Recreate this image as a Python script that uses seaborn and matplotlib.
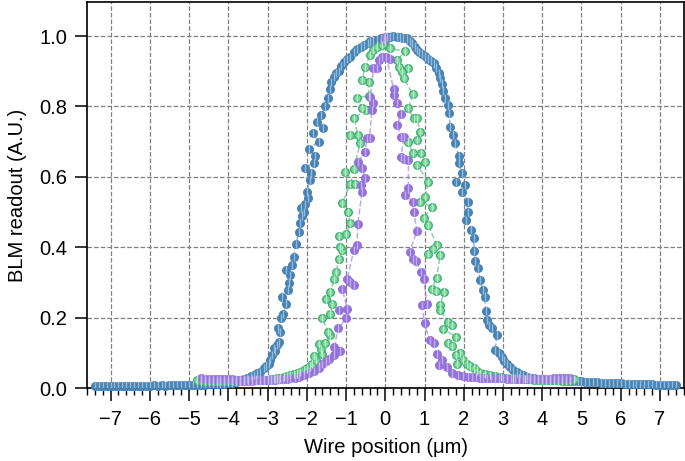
import matplotlib
matplotlib.use("Agg")
import matplotlib.pyplot as plt
import matplotlib.ticker as mticker
import pandas as pd
import seaborn as sns

# wide beam (blue), points in scan order
blue_x = [-7.4, -7.3, -7.2, -7.1, -7.0, -6.9, -6.8, -6.7, -6.6, -6.5, -6.4, -6.3, -6.2, -6.1, -6.0,
          -5.9, -5.8, -5.7, -5.6, -5.5, -5.4, -5.3, -5.2, -5.1, -5.0, -4.9, -4.8, -4.7, -4.6, -4.5,
          -4.4, -4.3, -4.2, -4.1, -4.0, -3.9, -3.8,
          -3.7, -3.6, -3.52, -3.43, -3.35, -3.27, -3.18, -3.10, -3.03, -2.97, -2.93, -2.88, -2.80,
          -2.84, -2.76, -2.71, -2.68, -2.74, -2.65, -2.60, -2.54, -2.63, -2.48, -2.45, -2.42, -2.52,
          -2.37, -2.33, -2.27, -2.21, -2.16, -2.12, -2.06, -2.14, -2.04, -1.98, -2.00, -1.93, -1.90,
          -2.04, -1.82, -1.78, -1.95, -1.70, -1.84, -1.58, -1.74, -1.63, -1.53, -1.47, -1.42, -1.38,
          -1.31, -1.25, -1.19, -1.12, -1.06, -0.98, -0.89, -0.80, -0.72, -0.63, -0.55, -0.45, -0.30,
          -0.38, -0.20, -0.12, -0.04, 0.04, 0.20,
          0.12, 0.30, 0.38, 0.46, 0.55, 0.62, 0.68, 0.75, 0.81, 0.87, 0.93, 1.02, 1.10, 1.16, 1.23,
          1.30, 1.36, 1.40, 1.44, 1.48, 1.53, 1.61, 1.63, 1.65, 1.72, 1.78, 1.87, 1.87, 1.95, 1.81,
          2.04, 1.95, 2.12, 2.10, 2.06, 2.18, 2.25, 2.27, 2.29, 2.37, 2.42, 2.48, 2.54, 2.56, 2.59,
          2.65, 2.71, 2.84, 2.80, 2.90, 2.97, 3.03, 3.10, 3.18, 3.26, 3.35, 3.43, 3.52, 3.60, 3.70,
          3.80, 3.90, 4.00,
          4.1, 4.2, 4.3, 4.4, 4.5, 4.6, 4.7, 4.8, 4.9, 5.0, 5.1, 5.2, 5.3, 5.4, 5.5, 5.6, 5.7, 5.8,
          5.9, 6.0, 6.1, 6.2, 6.3, 6.4, 6.5, 6.6, 6.7, 6.8, 6.9, 7.0, 7.1, 7.2, 7.3, 7.4]
blue_y = [0.006, 0.007, 0.006, 0.007, 0.006, 0.007, 0.007, 0.006, 0.007, 0.007, 0.006, 0.007, 0.007,
          0.007, 0.007, 0.008, 0.007, 0.008, 0.007, 0.008, 0.008, 0.008, 0.008, 0.009, 0.009, 0.009,
          0.010, 0.010, 0.010, 0.011, 0.011, 0.012, 0.012, 0.013, 0.014, 0.016, 0.018,
          0.022, 0.025, 0.028, 0.034, 0.038, 0.042, 0.046, 0.058, 0.064, 0.070, 0.080, 0.094, 0.105,
          0.113, 0.122, 0.130, 0.160, 0.170, 0.200, 0.210, 0.240, 0.260, 0.280, 0.300, 0.320, 0.335,
          0.350, 0.373, 0.410, 0.444, 0.470, 0.490, 0.500, 0.512, 0.523, 0.540, 0.558, 0.590, 0.610,
          0.625, 0.640, 0.660, 0.680, 0.700, 0.725, 0.740, 0.757, 0.776, 0.800, 0.823, 0.850, 0.870,
          0.885, 0.895, 0.900, 0.915, 0.927, 0.935, 0.940, 0.955, 0.963, 0.970, 0.974, 0.980, 0.984,
          0.985, 0.990, 0.993, 0.995, 0.998, 1.000,
          0.997, 0.998, 0.996, 0.995, 0.993, 0.985, 0.979, 0.970, 0.960, 0.955, 0.950, 0.942, 0.936,
          0.930, 0.922, 0.910, 0.894, 0.880, 0.865, 0.845, 0.823, 0.804, 0.780, 0.742, 0.720, 0.695,
          0.660, 0.640, 0.610, 0.586, 0.577, 0.558, 0.530, 0.500, 0.477, 0.450, 0.425, 0.390, 0.360,
          0.340, 0.307, 0.280, 0.260, 0.220, 0.193, 0.180, 0.170, 0.150, 0.108, 0.100, 0.089, 0.078,
          0.070, 0.060, 0.051, 0.045, 0.040, 0.037, 0.033, 0.030, 0.028, 0.026, 0.025,
          0.024, 0.024, 0.023, 0.022, 0.021, 0.021, 0.020, 0.020, 0.019, 0.019, 0.018, 0.018, 0.017,
          0.017, 0.016, 0.016, 0.015, 0.015, 0.014, 0.014, 0.013, 0.013, 0.012, 0.012, 0.012, 0.011,
          0.011, 0.011, 0.010, 0.010, 0.010, 0.009, 0.009, 0.008]

# medium beam (green)
green_x = [-4.8, -4.7, -4.6, -4.5, -4.4, -4.3, -4.2, -4.1, -4.0, -3.9, -3.8, -3.7, -3.6, -3.5, -3.4,
           -3.3, -3.2, -3.1, -3.0, -2.9, -2.84, -2.75, -2.67, -2.59, -2.5, -2.42, -2.33, -2.25, -2.16,
           -2.08, -2.0,
           -1.91, -1.70, -1.86, -1.76, -1.81, -1.61, -1.65, -1.70, -1.53, -1.40, -1.45, -1.61, -1.40,
           -1.35, -1.50, -1.40, -1.30, -1.25, -1.19, -1.10, -1.15, -1.19, -0.99, -0.89, -0.95, -1.10,
           -0.89, -0.77, -1.02, -0.80, -0.64, -0.89, -0.70, -0.80, -0.50, -0.59, -0.72, -0.42, -0.42,
           -0.59, -0.51, -0.38, -0.30, -0.20, -0.08, 0.00,
           0.13, 0.51, 0.30, 0.34, 0.59, 0.42, 0.48, 0.70, 0.59, 0.72, 0.81, 0.89, 0.81, 0.59, 0.70,
           0.91, 1.02, 0.81, 1.10, 1.02, 0.89, 1.19, 0.98, 1.10, 1.31, 1.21, 1.10, 1.40, 1.31, 1.19,
           1.30, 1.50, 1.40, 1.40, 1.61, 1.70, 1.48, 1.81, 1.61, 1.70, 1.91, 1.81, 1.99, 1.82, 2.09,
           2.17, 2.25, 2.33, 2.42,
           2.55, 2.67, 2.8, 2.95, 3.10, 3.25, 3.4, 3.55, 3.69, 3.8, 3.9, 4.0, 4.1, 4.2, 4.3, 4.4, 4.5,
           4.6, 4.7, 4.8]
green_y = [0.024, 0.022, 0.021, 0.021, 0.021, 0.021, 0.021, 0.021, 0.021, 0.021, 0.021, 0.021, 0.021,
           0.021, 0.021, 0.022, 0.022, 0.023, 0.024, 0.025, 0.026, 0.028, 0.030, 0.032, 0.035, 0.038,
           0.040, 0.042, 0.046, 0.051, 0.056,
           0.062, 0.063, 0.070, 0.080, 0.091, 0.097, 0.110, 0.125, 0.129, 0.150, 0.160, 0.198, 0.212,
           0.240, 0.252, 0.274, 0.309, 0.330, 0.368, 0.392, 0.400, 0.432, 0.437, 0.470, 0.500, 0.525,
           0.580, 0.580, 0.615, 0.622, 0.695, 0.720, 0.720, 0.766, 0.790, 0.795, 0.825, 0.830, 0.870,
           0.875, 0.913, 0.946, 0.960, 0.970, 0.974, 0.985,
           0.965, 0.956, 0.932, 0.913, 0.908, 0.899, 0.880, 0.834, 0.795, 0.766, 0.766, 0.728, 0.705,
           0.700, 0.667, 0.667, 0.643, 0.634, 0.586, 0.543, 0.530, 0.515, 0.482, 0.463, 0.406, 0.394,
           0.380, 0.378, 0.314, 0.283, 0.276, 0.274, 0.236, 0.222, 0.188, 0.179, 0.167, 0.146, 0.129,
           0.119, 0.099, 0.094, 0.081, 0.070, 0.070, 0.062, 0.056, 0.050, 0.043,
           0.040, 0.037, 0.034, 0.032, 0.030, 0.028, 0.027, 0.026, 0.025, 0.024, 0.023, 0.023, 0.022,
           0.022, 0.022, 0.022, 0.022, 0.022, 0.023, 0.026]

# narrow beam (purple)
purple_x = [-4.7, -4.6, -4.5, -4.4, -4.3, -4.2, -4.1, -4.0, -3.9, -3.8, -3.7, -3.6, -3.5, -3.4, -3.3,
            -3.2, -3.1, -3.0, -2.9, -2.8, -2.7, -2.6, -2.5, -2.42, -2.3, -2.2, -2.08, -1.95, -1.82,
            -1.70, -1.61, -1.52, -1.44, -1.31, -1.15, -1.30, -1.20, -0.99, -1.19, -0.97, -1.10, -0.79,
            -0.89, -0.97, -0.80, -0.72, -0.70, -0.59, -0.62, -0.51, -0.59, -0.70, -0.51, -0.47, -0.40,
            -0.34, -0.30, -0.38, -0.30, -0.22, -0.17, -0.08, -0.04, 0.00,
            0.13, 0.03, 0.21, 0.21, 0.30, 0.40, 0.30, 0.40, 0.48, 0.40, 0.47, 0.59, 0.59, 0.51, 0.70,
            0.72, 0.81, 0.62, 0.70, 0.79, 0.91, 0.98, 1.06, 0.93, 1.00, 1.13, 1.23, 1.31, 1.44, 1.36,
            1.57, 1.70, 1.85, 1.99, 2.1, 2.2, 2.3, 2.42,
            2.5, 2.6, 2.7, 2.8, 2.9, 3.0, 3.1, 3.2, 3.3, 3.4, 3.5, 3.6, 3.7, 3.8, 3.9, 4.0, 4.1, 4.2,
            4.3, 4.4, 4.5, 4.6, 4.7]
purple_y = [0.028, 0.027, 0.027, 0.026, 0.026, 0.025, 0.025, 0.025, 0.025, 0.024, 0.024, 0.024, 0.024,
            0.024, 0.024, 0.024, 0.024, 0.024, 0.024, 0.024, 0.025, 0.026, 0.027, 0.028, 0.030, 0.033,
            0.037, 0.042, 0.049, 0.058, 0.068, 0.076, 0.084, 0.094, 0.106, 0.117, 0.170, 0.198, 0.222,
            0.226, 0.283, 0.293, 0.302, 0.311, 0.392, 0.406, 0.466, 0.558, 0.577, 0.596, 0.624, 0.643,
            0.671, 0.710, 0.710, 0.790, 0.810, 0.828, 0.908, 0.908, 0.932, 0.940, 0.989, 0.998,
            0.936, 0.940, 0.850, 0.832, 0.810, 0.778, 0.747, 0.714, 0.714, 0.657, 0.652, 0.648, 0.567,
            0.548, 0.530, 0.500, 0.447, 0.387, 0.366, 0.362, 0.330, 0.311, 0.239, 0.236, 0.186, 0.136,
            0.127, 0.098, 0.081, 0.065, 0.060, 0.042, 0.038, 0.034, 0.033, 0.032, 0.031, 0.030,
            0.030, 0.029, 0.029, 0.028, 0.028, 0.028, 0.027, 0.027, 0.027, 0.027, 0.027, 0.027, 0.027,
            0.027, 0.027, 0.027, 0.027, 0.027, 0.028, 0.028, 0.028, 0.028, 0.029]

err = 0.012

sns.set_style("ticks")
plt.rcParams["font.family"] = ["Liberation Sans", "DejaVu Sans"]
plt.rcParams["axes.unicode_minus"] = True
plt.rcParams["text.color"] = "black"
plt.rcParams["axes.labelcolor"] = "black"
plt.rcParams["xtick.color"] = "black"
plt.rcParams["ytick.color"] = "black"

fig = plt.figure(figsize=(6.85, 4.61), dpi=100)
ax = fig.add_axes([0.127, 0.158, 0.872, 0.838])

series = [
    (blue_x, blue_y, "#4682b4", "#4682b4", "#9fc2e0"),
    (green_x, green_y, "#3cb371", "#7fd69c", "#c5efd3"),
    (purple_x, purple_y, "#9370db", "#9370db", "#c8b6ef"),
]

for xs, ys, edge, face, light in series:
    df = pd.DataFrame({"x": xs, "y": ys})
    sns.lineplot(data=df, x="x", y="y", sort=False, estimator=None, color=edge,
                 alpha=0.6, lw=1.1, linestyle="--", ax=ax, zorder=2)
    sns.scatterplot(data=df, x="x", y="y", color=face, edgecolor=edge, s=30, linewidth=1.0,
                    ax=ax, zorder=3, clip_on=False)
    ax.errorbar(xs, ys, yerr=err, fmt="none", ecolor=light, elinewidth=1.0, alpha=0.9, zorder=4)

ax.set_xlim(-7.6, 7.62)
ax.set_ylim(0, 1.097)
ax.set_xticks(range(-7, 8))
ax.xaxis.set_minor_locator(mticker.MultipleLocator(0.2))
ax.set_yticks([0.0, 0.2, 0.4, 0.6, 0.8, 1.0])
ax.yaxis.set_major_formatter(mticker.FormatStrFormatter("%.1f"))

ax.grid(True, which="major", linestyle="--", color="#808080", lw=0.9)
ax.set_axisbelow(True)
for sp in ax.spines.values():
    sp.set_visible(True)
    sp.set_linewidth(1.2)
    sp.set_color("black")

ax.tick_params(which="major", direction="out", length=9, width=1.1, labelsize=14.5, pad=5,
               color="black", labelcolor="black")
ax.tick_params(axis="x", which="major", pad=7)
ax.tick_params(which="minor", direction="out", length=5, width=1.0, color="black")
ax.tick_params(axis="y", which="minor", length=0)

ax.set_xlabel("Wire position (μm)", fontsize=14.5, labelpad=6, color="black")
ax.set_ylabel("BLM readout (A.U.)", fontsize=14.5, labelpad=9, color="black")

fig.savefig("out.png", dpi=100)
